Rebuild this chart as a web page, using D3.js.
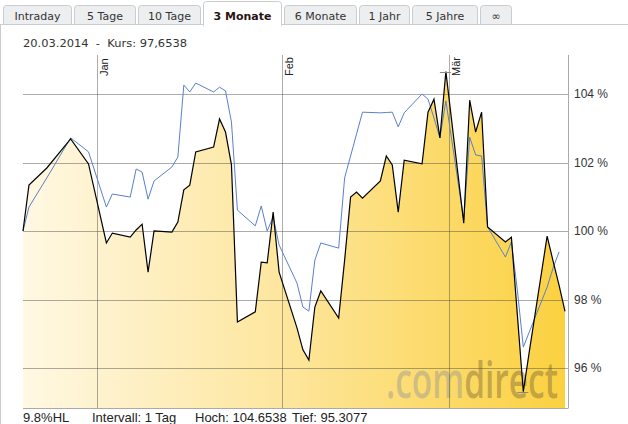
<!DOCTYPE html>
<html><head><meta charset="utf-8">
<script src="https://cdn.jsdelivr.net/npm/d3@7"></script>
<style>
html,body{margin:0;padding:0;background:#fff;}
svg{display:block;}
text{white-space:pre;}
</style></head>
<body>
<svg id="c" width="628" height="424"></svg>
<script>
// ---------- data ----------
const dates = ["19.12.2013","20.12.2013","23.12.2013","27.12.2013","30.12.2013",
"02.01.2014","03.01.2014","06.01.2014","07.01.2014","08.01.2014","09.01.2014","10.01.2014",
"13.01.2014","14.01.2014","15.01.2014","16.01.2014","17.01.2014","20.01.2014","21.01.2014",
"22.01.2014","23.01.2014","24.01.2014","27.01.2014","28.01.2014","29.01.2014","30.01.2014",
"31.01.2014","03.02.2014","04.02.2014","05.02.2014","06.02.2014","07.02.2014","10.02.2014",
"11.02.2014","12.02.2014","13.02.2014","14.02.2014","17.02.2014","18.02.2014","19.02.2014",
"20.02.2014","21.02.2014","24.02.2014","25.02.2014","26.02.2014","27.02.2014","28.02.2014",
"03.03.2014","04.03.2014","05.03.2014","06.03.2014","07.03.2014","10.03.2014","11.03.2014",
"12.03.2014","13.03.2014","14.03.2014","17.03.2014","18.03.2014","19.03.2014","20.03.2014"];

const kurs = [100.00,101.34,101.84,102.69,101.96,
99.65,99.94,99.82,100.03,100.20,98.80,100.00,
99.97,100.26,101.20,101.34,102.31,102.45,103.27,
102.89,101.93,97.34,97.64,99.09,99.07,100.55,
98.80,97.17,96.53,96.23,97.78,98.25,97.46,
99.15,100.99,101.14,100.96,101.46,102.19,101.93,
100.55,102.07,101.96,103.47,103.85,102.72,104.6538,
100.23,103.82,102.89,103.47,100.12,99.68,99.82,
97.55,95.3077,96.47,99.85,99.12,98.42,97.6538];

const vergleich = [100.00,100.70,101.55,102.72,102.31,
100.70,101.08,100.99,101.81,101.72,100.93,101.46,
101.87,102.16,104.26,104.06,104.32,104.06,104.20,
104.09,103.18,100.61,100.15,100.73,100.00,100.41,
99.59,98.48,97.78,97.66,99.15,99.65,99.50,
101.55,102.19,102.83,103.47,103.45,103.46,103.47,
103.04,103.45,104.00,103.85,103.30,102.72,103.80,
100.32,102.74,102.22,102.19,100.12,99.24,99.68,
98.28,96.61,97.05,98.36,98.92,99.39,null];

const yTicks = [96,98,100,102,104];
const monthTicks = ["01.01.2014","01.02.2014","01.03.2014"];
const monthLabels = ["Jan","Feb","Mär"];
const tabs = ["Intraday","5 Tage","10 Tage","3 Monate","6 Monate","1 Jahr","5 Jahre","\u221e"];
const activeTab = "3 Monate";
const header = "20.03.2014  -  Kurs: 97,6538";
const footer = ["9.8%HL","Intervall: 1 Tag","Hoch: 104.6538","Tief: 95.3077"];

// ---------- setup ----------
const parse = d3.timeParse("%d.%m.%Y");
const noon = s => d3.timeHour.offset(parse(s), 12);
const pts = dates.map((d,i)=>({t:noon(d), k:kurs[i], v:vergleich[i]}));

const svg = d3.select("#c");
const L = 23, R = 565, AX = 568, T = 55, B = 408;

const x = d3.scaleTime().domain([pts[0].t, pts[pts.length-1].t]).range([L, R]);
const y = d3.scaleLinear().domain([94.832, 105.139]).range([B, T]);

const FONT_T = "'DejaVu Sans', Verdana, sans-serif";
const FONT_A = "'Liberation Sans', Arial, sans-serif";

// tabs
const tabX = [[3,72],[74,136],[138,201],[203,282],[284,357],[359,410],[412,478],[480,512]];
const tg = svg.append("g");
tabs.forEach((t,i)=>{
  if (t===activeTab) return;
  const [a,b] = tabX[i];
  tg.append("rect").attr("x",a+0.5).attr("y",5.5).attr("width",b-a-1).attr("height",24)
    .attr("rx",3).attr("fill","#eceef0").attr("stroke","#c9cdd1");
  tg.append("text").attr("x",(a+b)/2).attr("y",20).attr("text-anchor","middle")
    .attr("font-family",FONT_T).attr("font-size",11).attr("fill","#333").text(t);
});
// panel
svg.append("rect").attr("x",0.5).attr("y",24.5).attr("width",640).attr("height",420)
  .attr("fill","#fff").attr("stroke","#c9cdd1");
{
  const i = tabs.indexOf(activeTab), [a,b] = tabX[i];
  svg.append("rect").attr("x",a+0.5).attr("y",1.5).attr("width",b-a-1).attr("height",26)
    .attr("rx",3).attr("fill","#fff").attr("stroke","#c9cdd1");
  svg.append("rect").attr("x",a+1).attr("y",22).attr("width",b-a-2).attr("height",6).attr("fill","#fff");
  svg.append("text").attr("x",(a+b)/2).attr("y",20).attr("text-anchor","middle")
    .attr("font-family",FONT_T).attr("font-size",11).attr("font-weight","bold")
    .attr("fill","#2a1414").text(activeTab);
}

// header
svg.append("text").attr("x",23).attr("y",47).attr("font-family",FONT_T).attr("font-size",11)
  .attr("textLength",164).attr("lengthAdjust","spacingAndGlyphs")
  .attr("fill","#333").text(header);

// gradient
const defs = svg.append("defs");
const grad = defs.append("linearGradient").attr("id","g1")
  .attr("gradientUnits","userSpaceOnUse").attr("x1",L).attr("x2",R).attr("y1",0).attr("y2",0);
grad.append("stop").attr("offset","0").attr("stop-color","#fff8e3");
grad.append("stop").attr("offset","0.5").attr("stop-color","#fde59a");
grad.append("stop").attr("offset","1").attr("stop-color","#fbd140");

// area
const area = d3.area().x(d=>x(d.t)).y0(B).y1(d=>y(d.k));
svg.append("path").datum(pts).attr("d",area).attr("fill","url(#g1)");

// watermark (scaled horizontally to fit 386..558)
const wmg = svg.append("g");
const wm = wmg.append("text").attr("x",0).attr("y",0).attr("font-family","'Open Sans', sans-serif")
  .attr("font-size",50).attr("font-weight",600);
wm.append("tspan").attr("fill","rgba(150,150,150,0.45)").text(".com");
wm.append("tspan").attr("fill","rgba(125,105,55,0.45)").text("direct");
const nat = wm.node().getComputedTextLength() || 240;
wmg.attr("transform",`translate(386,398) scale(${172/nat},1)`);

// grid
const grid = svg.append("g").attr("stroke","rgb(70,70,70)").attr("stroke-opacity",0.45).attr("stroke-width",1);
yTicks.forEach(v=>{
  const yy = Math.round(y(v))+0.5;
  grid.append("line").attr("x1",L).attr("x2",AX).attr("y1",yy).attr("y2",yy);
});
monthTicks.forEach((m,i)=>{
  const xx = Math.round(x(parse(m)))+0.5;
  grid.append("line").attr("x1",xx).attr("x2",xx).attr("y1",T).attr("y2",B);
  svg.append("text").attr("transform",`translate(${xx+10},76) rotate(-90)`)
    .attr("font-family",FONT_A).attr("font-size",11).attr("fill","#222").text(monthLabels[i]);
});

// frame
svg.append("line").attr("x1",AX+0.5).attr("x2",AX+0.5).attr("y1",T).attr("y2",B+0.5)
  .attr("stroke","#aaa");
svg.append("line").attr("x1",L).attr("x2",AX).attr("y1",B+0.5).attr("y2",B+0.5).attr("stroke","#aaa");

// y labels
yTicks.forEach(v=>{
  svg.append("text").attr("x",574).attr("y",y(v)+4).attr("font-family",FONT_A)
    .attr("font-size",12).attr("fill","#333").text(v+" %");
});

// comparison line
const line = d3.line().x(d=>x(d.t)).y(d=>y(d.val));
svg.append("path").datum(pts.filter(d=>d.v!=null).map(d=>({t:d.t,val:d.v})))
  .attr("d",line).attr("fill","none").attr("stroke","#5b7fca").attr("stroke-width",1);
// price line
svg.append("path").datum(pts.map(d=>({t:d.t,val:d.k})))
  .attr("d",line).attr("fill","none").attr("stroke","#000").attr("stroke-width",1.2)
  .attr("stroke-linejoin","miter");

// high / low markers
const hi = pts.reduce((a,b)=>b.k>a.k?b:a), lo = pts.reduce((a,b)=>b.k<a.k?b:a);
[hi,lo].forEach(p=>{
  svg.append("line").attr("x1",x(p.t)-6).attr("x2",x(p.t)+5).attr("y1",Math.round(y(p.k))+0.5)
    .attr("y2",Math.round(y(p.k))+0.5).attr("stroke","#888");
});

// footer
const fx = [23,92,195,292];
footer.forEach((f,i)=>{
  svg.append("text").attr("x",fx[i]).attr("y",422).attr("font-family",FONT_A)
    .attr("font-size",13).attr("fill","#222").text(f);
});
</script>
</body></html>
